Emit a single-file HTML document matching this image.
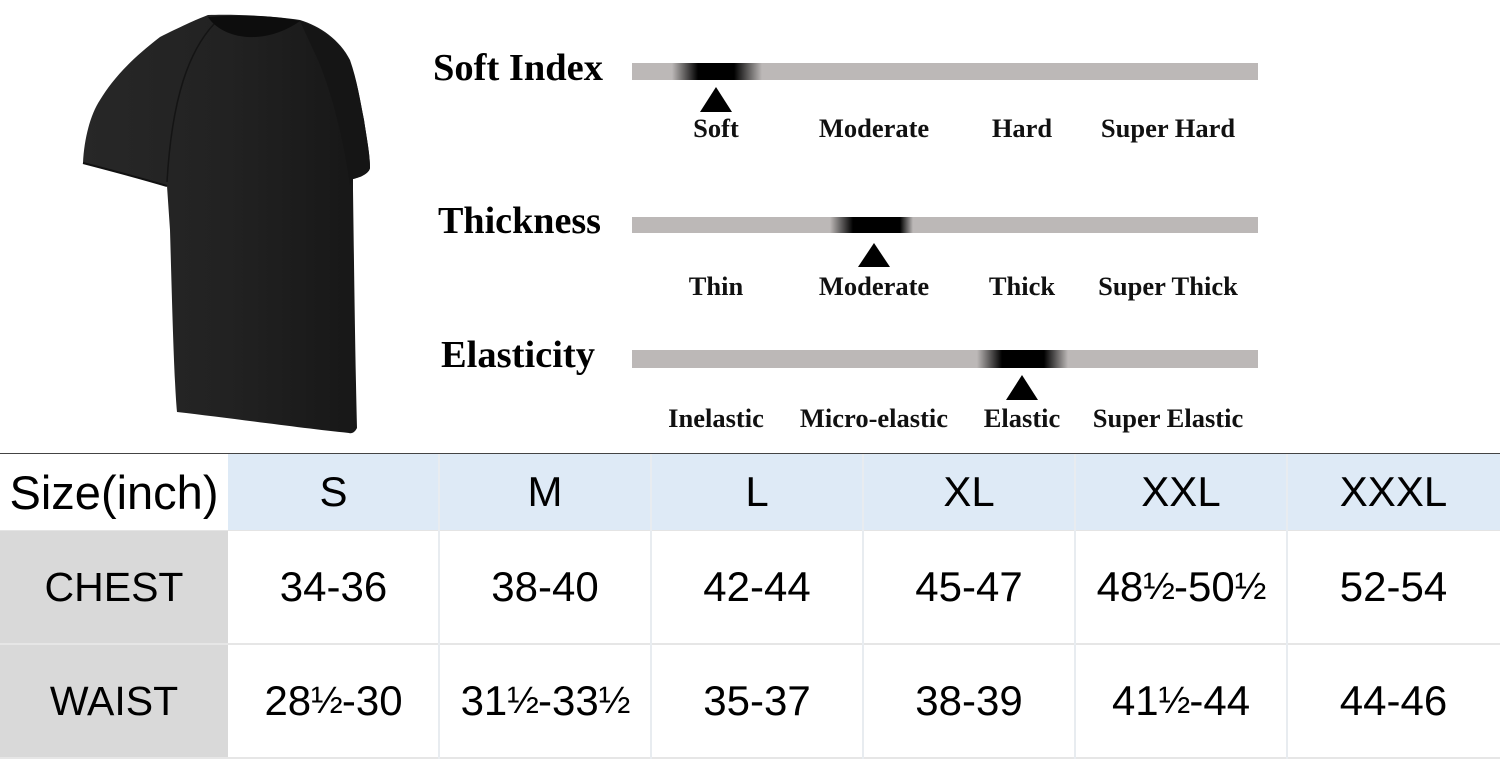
<!DOCTYPE html>
<html><head><meta charset="utf-8">
<style>
html,body{margin:0;padding:0;background:#fff;}
#wrap{position:relative;width:1500px;height:765px;overflow:hidden;background:#fff;font-family:"Liberation Sans",Arial,sans-serif;}
.bar{position:absolute;left:632px;width:626px;height:17px;}
.cell{position:absolute;display:flex;align-items:center;justify-content:center;color:#000;font-size:42px;box-sizing:border-box;}
.fr{letter-spacing:-5px;font-size:38px;margin-right:4px;}
</style></head><body><div id="wrap">

<svg width="1500" height="450" style="position:absolute;left:0;top:0" xmlns="http://www.w3.org/2000/svg">
<defs>
<linearGradient id="gb" x1="0" y1="0" x2="1" y2="0">
<stop offset="0" stop-color="#272727"/><stop offset="0.5" stop-color="#222"/><stop offset="1" stop-color="#161616"/>
</linearGradient>
</defs>
<path d="M208,15 C235,14 275,16 300,20 C320,26 340,40 350,60 C357,80 360,100 364,120 C367,140 370,155 370,168 C369,173 362,177 353,179 L353,190 C354,260 355,350 357,428 C355,432 352,434 349,433 C300,428 230,418 177,412 C174,380 172,300 170,230 L167,186 C150,180 110,170 83,163 C84,140 90,115 100,100 C112,80 130,60 160,37 C180,27 195,20 208,15 Z" fill="url(#gb)"/>
<path d="M300,21 C320,28 340,42 350,62 C357,80 360,100 364,120 C367,140 370,155 370,168 C369,173 362,177 353,179 L350,185 C345,150 335,100 318,60 Z" fill="#151515"/>
<path d="M208,17 C240,14 280,16 300,21 C285,32 265,38 248,37 C230,36 215,28 208,17 Z" fill="#0d0d0d"/>
<path d="M214,24 C190,50 172,95 167,182" stroke="#141414" stroke-width="1.5" fill="none"/>
<path d="M83,163 C110,170 140,178 167,186" stroke="#111" stroke-width="2" fill="none"/>

<text x="433" y="80" font-family="Liberation Serif,serif" font-weight="bold" font-size="38" textLength="170" lengthAdjust="spacingAndGlyphs" fill="#000">Soft Index</text>
<text x="438" y="233" font-family="Liberation Serif,serif" font-weight="bold" font-size="38" textLength="163" lengthAdjust="spacingAndGlyphs" fill="#000">Thickness</text>
<text x="441" y="367" font-family="Liberation Serif,serif" font-weight="bold" font-size="38" textLength="154" lengthAdjust="spacingAndGlyphs" fill="#000">Elasticity</text>

<polygon points="716,87 732,112 700,112" fill="#000"/>
<polygon points="874,243 890,267 858,267" fill="#000"/>
<polygon points="1022,375 1038,400 1006,400" fill="#000"/>

<g font-family="Liberation Serif,serif" font-weight="bold" font-size="26.5" fill="#111" text-anchor="middle">
<text x="716" y="137">Soft</text>
<text x="874" y="137">Moderate</text>
<text x="1022" y="137">Hard</text>
<text x="1168" y="137">Super Hard</text>
<text x="716" y="295">Thin</text>
<text x="874" y="295">Moderate</text>
<text x="1022" y="295">Thick</text>
<text x="1168" y="295">Super Thick</text>
<text x="716" y="427">Inelastic</text>
<text x="874" y="427">Micro-elastic</text>
<text x="1022" y="427">Elastic</text>
<text x="1168" y="427">Super Elastic</text>
</g>
</svg>

<div class="bar" style="top:63px;background:linear-gradient(to right,#bcb8b7 0px,#bcb8b7 40px,#000 66px,#000 102px,#bcb8b7 130px,#bcb8b7 626px);"></div>
<div class="bar" style="top:217px;height:16px;background:linear-gradient(to right,#bcb8b7 0px,#bcb8b7 198px,#000 221px,#000 268px,#bcb8b7 281px,#bcb8b7 626px);"></div>
<div class="bar" style="top:350px;height:18px;background:linear-gradient(to right,#bcb8b7 0px,#bcb8b7 345px,#000 370px,#000 412px,#bcb8b7 436px,#bcb8b7 626px);"></div>

<!-- table -->
<div style="position:absolute;left:0;top:453px;width:1500px;height:1px;background:#444;"></div>
<div style="position:absolute;left:228px;top:454px;width:1272px;height:76px;background:#deeaf6;"></div>
<div style="position:absolute;left:0;top:530px;width:228px;height:227px;background:#d9d9d9;"></div>
<div style="position:absolute;left:0;top:530px;width:1500px;height:1px;background:#e4e4e4;"></div>
<div style="position:absolute;left:0;top:643px;width:1500px;height:2px;background:#e6e6e6;"></div>
<div style="position:absolute;left:0;top:757px;width:1500px;height:2px;background:#e6e6e6;"></div>
<div style="position:absolute;left:438px;top:454px;width:2px;height:305px;background:#e8ecf0;"></div>
<div style="position:absolute;left:650px;top:454px;width:2px;height:305px;background:#e8ecf0;"></div>
<div style="position:absolute;left:862px;top:454px;width:2px;height:305px;background:#e8ecf0;"></div>
<div style="position:absolute;left:1074px;top:454px;width:2px;height:305px;background:#e8ecf0;"></div>
<div style="position:absolute;left:1286px;top:454px;width:2px;height:305px;background:#e8ecf0;"></div>

<div class="cell" style="left:0;top:454px;width:228px;height:76px;font-size:47px;">Size(inch)</div>
<div class="cell" style="left:228px;top:454px;width:211px;height:76px;">S</div>
<div class="cell" style="left:439px;top:454px;width:212px;height:76px;">M</div>
<div class="cell" style="left:651px;top:454px;width:212px;height:76px;">L</div>
<div class="cell" style="left:863px;top:454px;width:212px;height:76px;">XL</div>
<div class="cell" style="left:1075px;top:454px;width:212px;height:76px;">XXL</div>
<div class="cell" style="left:1287px;top:454px;width:213px;height:76px;">XXXL</div>

<div class="cell" style="left:0;top:531px;width:228px;height:112px;font-size:41px;">CHEST</div>
<div class="cell" style="left:228px;top:531px;width:211px;height:112px;">34-36</div>
<div class="cell" style="left:439px;top:531px;width:212px;height:112px;">38-40</div>
<div class="cell" style="left:651px;top:531px;width:212px;height:112px;">42-44</div>
<div class="cell" style="left:863px;top:531px;width:212px;height:112px;">45-47</div>
<div class="cell" style="left:1075px;top:531px;width:212px;height:112px;">48<span class="fr">½</span>-50<span class="fr">½</span></div>
<div class="cell" style="left:1287px;top:531px;width:213px;height:112px;">52-54</div>

<div class="cell" style="left:0;top:645px;width:228px;height:112px;font-size:41px;">WAIST</div>
<div class="cell" style="left:228px;top:645px;width:211px;height:112px;">28<span class="fr">½</span>-30</div>
<div class="cell" style="left:439px;top:645px;width:212px;height:112px;">31<span class="fr">½</span>-33<span class="fr">½</span></div>
<div class="cell" style="left:651px;top:645px;width:212px;height:112px;">35-37</div>
<div class="cell" style="left:863px;top:645px;width:212px;height:112px;">38-39</div>
<div class="cell" style="left:1075px;top:645px;width:212px;height:112px;">41<span class="fr">½</span>-44</div>
<div class="cell" style="left:1287px;top:645px;width:213px;height:112px;">44-46</div>

</div></body></html>
